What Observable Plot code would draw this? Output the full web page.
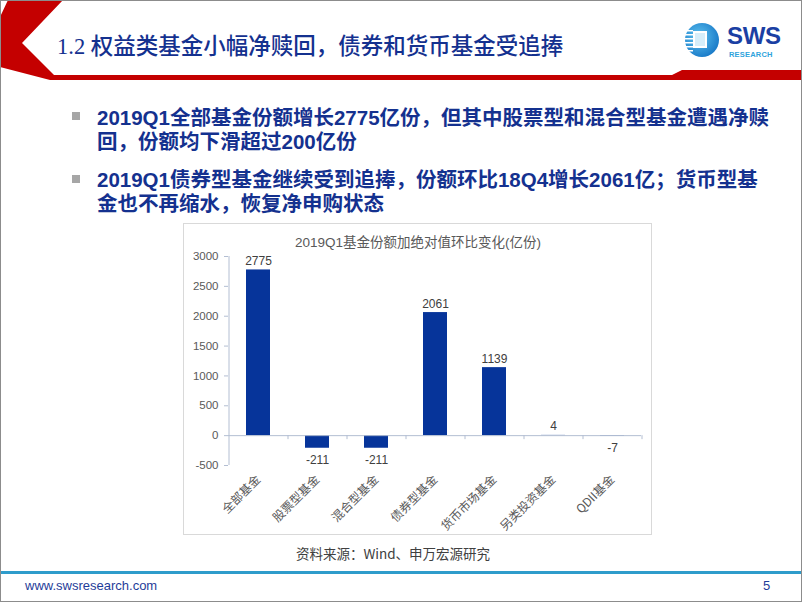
<!DOCTYPE html>
<html>
<head>
<meta charset="utf-8">
<script src="https://cdn.jsdelivr.net/npm/d3@7"></script>
<script src="https://cdn.jsdelivr.net/npm/@observablehq/plot@0.6"></script>
<style>
  html, body { margin: 0; padding: 0; background: #fff; }
  #page { position: relative; width: 802px; height: 602px; overflow: hidden; background: #fff;
          font-family: "Noto Sans CJK SC", "Liberation Sans", sans-serif; }
  .abs { position: absolute; }
  #border { left: 0; top: 0; width: 802px; height: 602px; box-sizing: border-box; border: 1px solid #8c8c8c; }
  #title { left: 57px; top: 29px; font-size: 22.5px; font-weight: 500; color: #14318f; white-space: nowrap; line-height: 30px; }
  #title .num { font-family: "Liberation Serif", serif; font-weight: 400; }
  .bullet { left: 72px; width: 8px; height: 8px; background: #a6a6a6; }
  .btext { left: 97px; font-family: "Liberation Sans", "Noto Sans CJK SC", sans-serif; font-size: 20.5px; font-weight: 700; color: #14318f; white-space: nowrap; line-height: 24px; }
  #chartbox { left: 183px; top: 223px; width: 469px; height: 312px; box-sizing: border-box; border: 1px solid #d9d9d9; }
  #chart { left: 183px; top: 223px; }
  #ctitle { left: 183px; width: 470px; top: 234px; text-align: center; font-size: 13.5px; color: #595959; white-space: nowrap; line-height: 17px;
            font-family: "Liberation Sans", "Noto Sans CJK SC", sans-serif; }
  #source { left: 183px; width: 420px; top: 544px; text-align: center; font-size: 13.5px; color: #404040; white-space: nowrap; line-height: 18px;
            font-family: "Noto Sans CJK SC", "Liberation Sans", sans-serif; }
  #footline { left: 0; top: 571px; width: 802px; height: 3px; background: #2f9ccb; }
  #url { left: 25px; top: 578px; font-family: "Liberation Sans", sans-serif; font-size: 13px; line-height: 15px; color: #1f3d99; }
  #pagenum { left: 763px; top: 578px; font-family: "Liberation Sans", sans-serif; font-size: 13px; line-height: 15px; color: #1f3d99; }
  #sws { left: 727px; top: 22px; font-family: "Liberation Sans", sans-serif; font-weight: 700; font-size: 24px; line-height: normal; color: #1b3fa3; letter-spacing: -0.3px; }
  #research { left: 729px; top: 49.5px; font-family: "Liberation Sans", sans-serif; font-weight: 700; font-size: 7.5px; line-height: normal; color: #2ea3dc; letter-spacing: 0.2px; }
</style>
</head>
<body>
<div id="page">
  <svg class="abs" style="left:0;top:0" width="802" height="90">
    <polygon points="8,0 63,0 22,43 54,75 672,75 682,70 802,70 802,80 50,80 0,67 0,17" fill="#c40000"/>
  </svg>
  <svg class="abs" style="left:683px;top:22px" width="40" height="38">
    <defs>
      <radialGradient id="lg" cx="0.4" cy="0.4" r="0.7">
        <stop offset="0" stop-color="#5fc3f0"/>
        <stop offset="1" stop-color="#1273c4"/>
      </radialGradient>
    </defs>
    <circle cx="19" cy="18" r="17" fill="url(#lg)"/>
    <rect x="1" y="8" width="9" height="1.5" fill="#fff"/>
    <rect x="0" y="12" width="10" height="1.5" fill="#fff"/>
    <rect x="0" y="16" width="10" height="1.5" fill="#fff"/>
    <rect x="0" y="20" width="10" height="1.5" fill="#fff"/>
    <rect x="0" y="24" width="10" height="1.5" fill="#fff"/>
    <rect x="1" y="28" width="9" height="1.5" fill="#fff"/>
    <rect x="10" y="9" width="14" height="17" fill="#fff"/>
    <rect x="12" y="11" width="10" height="13" fill="#d6eefa"/>
  </svg>
  <div id="sws" class="abs">SWS</div>
  <div id="research" class="abs">RESEARCH</div>
  <div id="title" class="abs"><span class="num">1.2 </span>权益类基金小幅净赎回，债券和货币基金受追捧</div>

  <div class="abs bullet" style="top:112px"></div>
  <div class="abs btext" style="top:106px">2019Q1全部基金份额增长2775亿份，但其中股票型和混合型基金遭遇净赎</div>
  <div class="abs btext" style="top:130px">回，份额均下滑超过200亿份</div>
  <div class="abs bullet" style="top:175px"></div>
  <div class="abs btext" style="top:168px">2019Q1债券型基金继续受到追捧，份额环比18Q4增长2061亿；货币型基</div>
  <div class="abs btext" style="top:192px">金也不再缩水，恢复净申购状态</div>

  <div id="chartbox" class="abs"></div>
  <div id="chart" class="abs"></div>
  <div id="ctitle" class="abs"></div>
  <div id="source" class="abs">资料来源：Wind、申万宏源研究</div>

  <div id="footline" class="abs"></div>
  <div id="url" class="abs">www.swsresearch.com</div>
  <div id="pagenum" class="abs">5</div>
  <div id="border" class="abs"></div>
</div>
<script>
const chartTitle = "2019Q1基金份额加绝对值环比变化(亿份)";
const categories = ["全部基金", "股票型基金", "混合型基金", "债券型基金", "货币市场基金", "另类投资基金", "QDII基金"];
const values = [2775, -211, -211, 2061, 1139, 4, -7];
const yTicks = [-500, 0, 500, 1000, 1500, 2000, 2500, 3000];
const yDomain = [-500, 3000];

const data = categories.map((c, i) => ({cat: c, value: values[i]}));

const W = 469, H = 312, ML = 45, MR = 11, MT = 33, MB = 70;
const step = (W - ML - MR) / categories.length;
const axisColor = "#b3bed2";
const barColor = "#06349a";
const textColor = "#595959";

document.getElementById("ctitle").textContent = chartTitle;

const chart = Plot.plot({
  width: W, height: H,
  marginLeft: ML, marginRight: MR, marginTop: MT, marginBottom: MB,
  style: {fontFamily: "'Liberation Sans','Noto Sans CJK SC',sans-serif", fontSize: "11.5px", color: textColor, background: "transparent", overflow: "visible"},
  x: {domain: categories, paddingInner: 0.6, paddingOuter: 0.3, label: null},
  y: {domain: yDomain, label: null},
  marks: [
    Plot.ruleX([categories[0]], {dx: -step / 2, stroke: axisColor}),
    Plot.axisY({ticks: yTicks, tickFormat: d => String(d), tickSize: 4, tickPadding: 6, stroke: axisColor, fill: textColor, fontSize: 11.5, label: null}),
    Plot.barY(data, {x: "cat", y: "value", fill: barColor}),
    Plot.ruleY([0], {stroke: axisColor}),
    Plot.ruleX(categories, {y1: 0, y2: 0, insetBottom: -4, dx: step / 2, stroke: axisColor}),
    Plot.axisX({tickRotate: -45, tickSize: 0, tickPadding: 12, fill: textColor, fontSize: 12, label: null,
                fontFamily: "'Noto Sans CJK SC','Liberation Sans',sans-serif"}),
    Plot.text(data.filter(d => d.value >= 0), {x: "cat", y: "value", text: d => String(d.value), dy: -5, lineAnchor: "bottom", fill: "#404040", fontSize: 12}),
    Plot.text(data.filter(d => d.value < 0), {x: "cat", y: "value", text: d => String(d.value), dy: 7, lineAnchor: "top", fill: "#404040", fontSize: 12})
  ]
});
document.getElementById("chart").appendChild(chart);
</script>
</body>
</html>
